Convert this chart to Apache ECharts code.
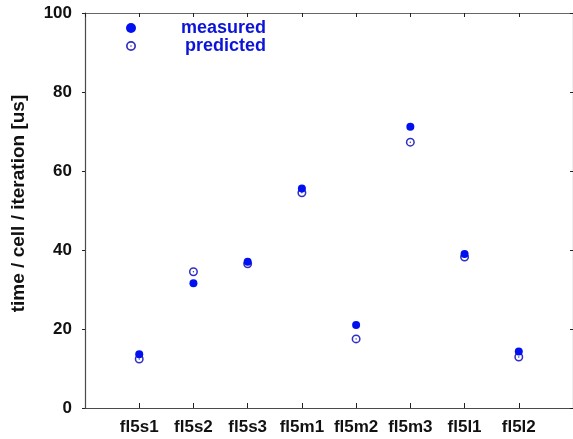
<!DOCTYPE html>
<html>
<head>
<meta charset="utf-8">
<script src="https://cdn.jsdelivr.net/npm/echarts@6/dist/echarts.min.js"></script>
<style>
  html, body { margin: 0; padding: 0; background: #fff; }
  #chart { width: 573px; height: 439px; }
</style>
</head>
<body>
<div id="chart"></div>
<script>
// Test cases along the x axis
const categories = ['fl5s1', 'fl5s2', 'fl5s3', 'fl5m1', 'fl5m2', 'fl5m3', 'fl5l1', 'fl5l2'];
// Time per cell per iteration, microseconds
const measured  = [13.6, 31.6, 37.0, 55.6, 21.0, 71.2, 39.0, 14.3];
const predicted = [12.4, 34.5, 36.5, 54.5, 17.5, 67.3, 38.2, 12.9];
const yTicks = [0, 20, 40, 60, 80, 100];

const FONT = '"Liberation Sans", Arial, Helvetica, sans-serif';
const AXIS_COLOR = '#4a4a4a';

// open circle with a dot in the middle (ring drawn as opposite-winding hole)
const ringDot = 'path://M0 5A5 5 0 1 1 10 5A5 5 0 1 1 0 5Z' +
                'M1.7 5A3.3 3.3 0 1 0 8.3 5A3.3 3.3 0 1 0 1.7 5Z' +
                'M4.2 5A0.8 0.8 0 1 1 5.8 5A0.8 0.8 0 1 1 4.2 5Z';

const toPoints = vals => vals.map((v, i) => [i + 1, v]);

const chart = echarts.init(document.getElementById('chart'), null, { renderer: 'canvas' });

chart.setOption({
  backgroundColor: '#ffffff',
  animation: false,
  grid: { left: 85, top: 13, width: 491, height: 395 },
  legend: {
    orient: 'vertical',
    left: 126,
    top: 19,
    padding: 0,
    itemGap: 0,
    itemWidth: 10,
    itemHeight: 10,
    selectedMode: false,
    formatter: '{t|{name}}',
    textStyle: {
      rich: {
        t: {
          width: 125,
          align: 'right',
          lineHeight: 20,
          fontFamily: FONT,
          fontWeight: 'bold',
          fontSize: 18,
          color: '#0c14d8'
        }
      }
    },
    data: ['measured', 'predicted']
  },
  xAxis: [
    {
      type: 'value',
      position: 'bottom',
      min: 0,
      max: categories.length + 1,
      interval: 1,
      splitLine: { show: false },
      axisLine: { onZero: false, lineStyle: { color: AXIS_COLOR, width: 1.2 } },
      axisTick: { inside: true, length: 5, lineStyle: { color: '#222' } },
      axisLabel: {
        margin: 11,
        fontFamily: FONT,
        fontWeight: 'bold',
        fontSize: 17,
        color: '#111',
        formatter: v => categories[v - 1] || '',
        showMinLabel: false,
        showMaxLabel: false
      }
    },
    {
      type: 'value',
      position: 'top',
      min: 0,
      max: categories.length + 1,
      interval: 1,
      splitLine: { show: false },
      axisLine: { show: true, onZero: false, lineStyle: { color: '#666', width: 1.2 } },
      axisTick: { show: true, inside: true, length: 4, lineStyle: { color: '#222' } },
      axisLabel: { show: false }
    }
  ],
  yAxis: [
    {
      type: 'value',
      position: 'left',
      min: yTicks[0],
      max: yTicks[yTicks.length - 1],
      interval: yTicks[1] - yTicks[0],
      name: 'time / cell / iteration [us]',
      nameLocation: 'middle',
      nameGap: 57,
      nameTextStyle: {
        fontFamily: FONT,
        fontWeight: 'bold',
        fontSize: 19,
        color: '#111',
        padding: [0, 0, 0, 14]
      },
      splitLine: { show: false },
      axisLine: { show: true, onZero: false, lineStyle: { color: AXIS_COLOR, width: 1.2 } },
      axisTick: { show: true, inside: false, length: 3, lineStyle: { color: '#222' } },
      axisLabel: {
        margin: 13,
        fontFamily: FONT,
        fontWeight: 'bold',
        fontSize: 17,
        color: '#111'
      }
    },
    {
      type: 'value',
      position: 'right',
      min: yTicks[0],
      max: yTicks[yTicks.length - 1],
      interval: yTicks[1] - yTicks[0],
      splitLine: { show: false },
      axisLine: { show: true, onZero: false, lineStyle: { color: '#666', width: 1.2 } },
      axisTick: { show: true, inside: true, length: 3, lineStyle: { color: '#222' } },
      axisLabel: { show: false }
    }
  ],
  series: [
    {
      name: 'predicted',
      type: 'scatter',
      symbol: ringDot,
      symbolSize: 9,
      itemStyle: { color: '#3030c4', opacity: 1 },
      data: toPoints(predicted),
      z: 2
    },
    {
      name: 'measured',
      type: 'scatter',
      symbol: 'circle',
      symbolSize: 8,
      itemStyle: { color: '#0010ee', opacity: 1 },
      data: toPoints(measured),
      z: 3
    }
  ]
});
</script>
</body>
</html>
